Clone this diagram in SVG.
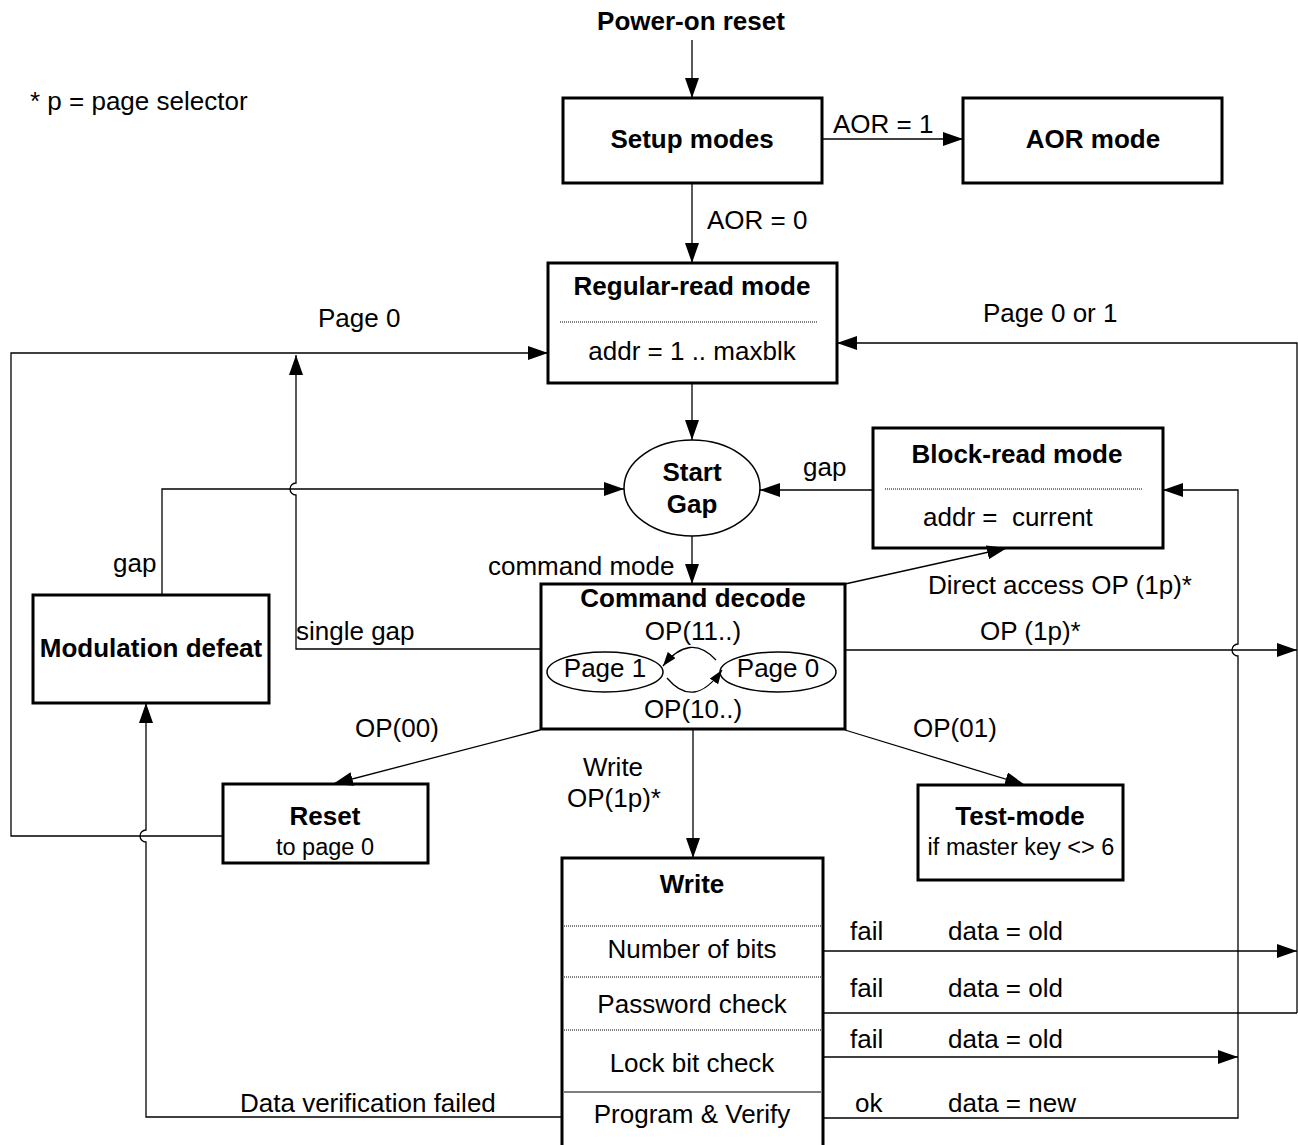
<svg xmlns="http://www.w3.org/2000/svg" width="1298" height="1145" viewBox="0 0 1298 1145">
<defs>
<style>
text{font-family:"Liberation Sans",Arial,sans-serif;font-size:26px;fill:#000}
.b{font-weight:bold}
.m{text-anchor:middle}
.sm{font-size:23.5px}
.box{fill:#fff;stroke:#000;stroke-width:3}
.sep{stroke:#000;stroke-width:1;stroke-dasharray:1,1}
.ln{fill:none;stroke:#000;stroke-width:1.3}
.ell{fill:#fff;stroke:#000;stroke-width:1.5}
</style>
<marker id="a" markerWidth="20" markerHeight="14" refX="20" refY="7" orient="auto" markerUnits="userSpaceOnUse"><path d="M0,0 L20,7 L0,14 z" fill="#000"/></marker>
<marker id="s" markerWidth="14" markerHeight="10" refX="14" refY="5" orient="auto" markerUnits="userSpaceOnUse"><path d="M0,0 L14,5 L0,10 z" fill="#000"/></marker>
</defs>
<rect width="1298" height="1145" fill="#fff"/>

<g id="setup-modes">
<rect class="box" x="563" y="98" width="259" height="85"/>
<text class="b m" x="692" y="148">Setup modes</text>
</g>

<g id="aor-mode">
<rect class="box" x="963" y="98" width="259" height="85"/>
<text class="b m" x="1093" y="148">AOR mode</text>
</g>

<g id="regular-read">
<rect class="box" x="548" y="263" width="289" height="120"/>
<text class="b m" x="692" y="295">Regular-read mode</text>
<line class="sep" x1="560" y1="322" x2="818" y2="322"/>
<text class="m" x="692" y="360">addr = 1 .. maxblk</text>
</g>

<g id="start-gap">
<ellipse class="ell" cx="692" cy="488" rx="68" ry="48"/>
<text class="b m" x="692" y="481">Start</text>
<text class="b m" x="692" y="513">Gap</text>
</g>

<g id="block-read">
<rect class="box" x="873" y="428" width="290" height="120"/>
<text class="b m" x="1017" y="463">Block-read mode</text>
<line class="sep" x1="885" y1="489" x2="1142" y2="489"/>
<text x="923" y="526" style="white-space:pre">addr =  current</text>
</g>

<g id="command-decode">
<rect class="box" x="541" y="584" width="304" height="145"/>
<text class="b m" x="693" y="607">Command decode</text>
<text class="m" x="693" y="640">OP(11..)</text>
<ellipse class="ell" cx="605" cy="672" rx="58" ry="20"/>
<text class="m" x="605" y="677">Page 1</text>
<ellipse class="ell" cx="778" cy="672" rx="58" ry="20"/>
<text class="m" x="778" y="677">Page 0</text>
<text class="m" x="693" y="718">OP(10..)</text>
<path class="ln" d="M716,660 Q690,632 663,666" marker-end="url(#s)"/>
<path class="ln" d="M667,678 Q694,710 722,670" marker-end="url(#s)"/>
</g>

<g id="modulation-defeat">
<rect class="box" x="33" y="595" width="236" height="108"/>
<text class="b m" x="151" y="657">Modulation defeat</text>
</g>

<g id="reset">
<rect class="box" x="223" y="784" width="205" height="79"/>
<text class="b m" x="325" y="825">Reset</text>
<text class="m sm" x="325" y="855">to page 0</text>
</g>

<g id="test-mode">
<rect class="box" x="918" y="785" width="205" height="95"/>
<text class="b m" x="1020" y="825">Test-mode</text>
<text class="m sm" x="1021" y="855">if master key &lt;&gt; 6</text>
</g>

<g id="write">
<rect class="box" x="562" y="858" width="261" height="292"/>
<text class="b m" x="692" y="893">Write</text>
<line class="sep" x1="564" y1="926" x2="821" y2="926"/>
<text class="m" x="692" y="958">Number of bits</text>
<line class="sep" x1="564" y1="977" x2="821" y2="977"/>
<text class="m" x="692" y="1013">Password check</text>
<line class="sep" x1="564" y1="1030" x2="821" y2="1030"/>
<text class="m" x="692" y="1072">Lock bit check</text>
<line x1="564" y1="1092" x2="821" y2="1092" stroke="#000" stroke-width="1.2"/>
<text class="m" x="692" y="1123">Program &amp; Verify</text>
</g>

<g id="connectors">
<path class="ln" d="M692,40 V98" marker-end="url(#a)"/>
<path class="ln" d="M822,139 H963" marker-end="url(#a)"/>
<path class="ln" d="M692,183 V263" marker-end="url(#a)"/>
<path class="ln" d="M692,383 V440" marker-end="url(#a)"/>
<path class="ln" d="M692,536 V584" marker-end="url(#a)"/>
<path class="ln" d="M873,490 H760" marker-end="url(#a)"/>
<path class="ln" d="M845,584 L1007,548" marker-end="url(#a)"/>
<path class="ln" d="M540,730 L333,784" marker-end="url(#a)"/>
<path class="ln" d="M845,730 L1025,785" marker-end="url(#a)"/>
<path class="ln" d="M693,730 V858" marker-end="url(#a)"/>
<path class="ln" d="M223,836 H11 V353 H548" marker-end="url(#a)"/>
<path class="ln" d="M541,649 H296 V495 A6,6 0 0,1 296,483 V355" marker-end="url(#a)"/>
<path class="ln" d="M162,595 V489 H624" marker-end="url(#a)"/>
<path class="ln" d="M562,1117 H146 V842 A6,6 0 0,1 146,830 V703" marker-end="url(#a)"/>
<path class="ln" d="M1297,1013 H823"/>
<path class="ln" d="M1297,1013 V343 H837" marker-end="url(#a)"/>
<path class="ln" d="M845,650 H1297" marker-end="url(#a)"/>
<path class="ln" d="M823,951 H1297" marker-end="url(#a)"/>
<path class="ln" d="M823,1057 H1238" marker-end="url(#a)"/>
<path class="ln" d="M823,1118 H1238 V656 A6,6 0 0,1 1238,644 V490 H1163" marker-end="url(#a)"/>
</g>

<g id="labels">
<text class="b m" x="691" y="30">Power-on reset</text>
<text x="30" y="110">* p = page selector</text>
<text x="833" y="133">AOR = 1</text>
<text x="707" y="229">AOR = 0</text>
<text x="318" y="327">Page 0</text>
<text x="983" y="322">Page 0 or 1</text>
<text x="803" y="476">gap</text>
<text x="113" y="572">gap</text>
<text x="488" y="575">command mode</text>
<text x="928" y="594">Direct access OP (1p)*</text>
<text x="296" y="640">single gap</text>
<text x="980" y="640">OP (1p)*</text>
<text x="355" y="737">OP(00)</text>
<text x="913" y="737">OP(01)</text>
<text class="m" x="613" y="776">Write</text>
<text class="m" x="614" y="807">OP(1p)*</text>
<text x="850" y="940">fail</text>
<text x="948" y="940">data = old</text>
<text x="850" y="997">fail</text>
<text x="948" y="997">data = old</text>
<text x="850" y="1048">fail</text>
<text x="948" y="1048">data = old</text>
<text x="855" y="1112">ok</text>
<text x="948" y="1112">data = new</text>
<text x="240" y="1112">Data verification failed</text>
</g>
</svg>
